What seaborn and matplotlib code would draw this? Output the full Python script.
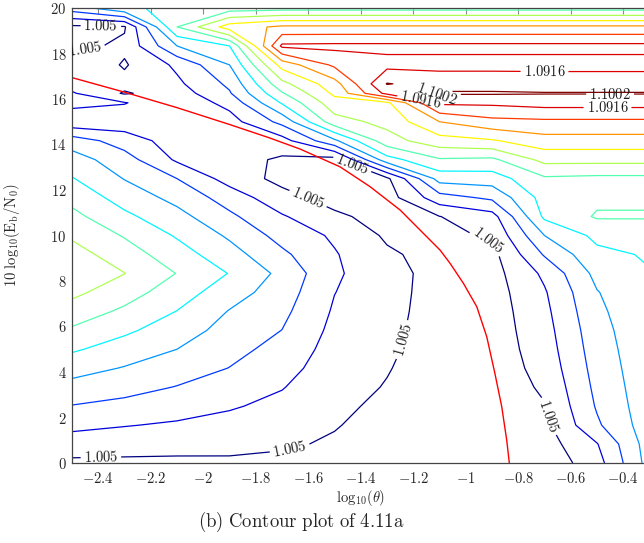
import numpy as np
import pandas as pd
import matplotlib
matplotlib.use("Agg")
import matplotlib.pyplot as plt
import seaborn as sns
from matplotlib.colors import LinearSegmentedColormap
from matplotlib.ticker import FuncFormatter

# ---------------- data ----------------
log_theta = [-2.5, -2.3, -2.1, -1.9, -1.7, -1.5, -1.3, -1.1, -0.9, -0.7, -0.5, -0.3]
ebn0_db = [0.0, 0.833, 1.667, 2.5, 3.333, 4.167, 5.0, 5.833, 6.667, 7.5, 8.333, 9.167,
           10.0, 10.833, 11.667, 12.5, 13.333, 14.167, 15.0, 15.833, 16.25, 16.667,
           17.5, 18.333, 19.167, 20.0]
ratio_min = 1.005
ratio_max = 1.10024
n_levels = 12
# surface, in units of contour steps above 1.005
# (one row per Eb/N0 value, one column per log10(theta) value)
step_grid = [
    [-0.2, -0.2, -0.2, -0.15, -0.2, -0.3, -0.5, -0.7, -0.6, -0.7, 0.6, 3.4],
    [0.53, 0.42, 0.34, 0.25, 0.11, -0.1, -0.4, -0.65, -0.6, -0.45, 0.95, 3.5],
    [1.25, 1.05, 0.88, 0.68, 0.42, 0.05, -0.3, -0.6, -0.6, -0.25, 1.85, 3.55],
    [1.96, 1.72, 1.42, 1.1, 0.74, 0.2, -0.2, -0.55, -0.6, -0.05, 2.1, 3.6],
    [2.67, 2.35, 1.96, 1.55, 1.05, 0.33, -0.05, -0.5, -0.6, 0.15, 2.25, 3.65],
    [3.39, 2.94, 2.48, 1.98, 1.37, 0.47, 0.05, -0.45, -0.58, 0.35, 2.38, 3.7],
    [4.13, 3.56, 3.0, 2.3, 1.68, 0.6, 0.15, -0.42, -0.55, 0.5, 2.5, 3.75],
    [4.86, 4.18, 3.49, 2.63, 1.99, 0.74, 0.22, -0.4, -0.52, 0.62, 2.62, 3.8],
    [5.56, 4.82, 3.98, 2.95, 2.25, 0.88, 0.28, -0.38, -0.5, 0.75, 2.78, 3.85],
    [6.24, 5.43, 4.48, 3.45, 2.5, 1.02, 0.32, -0.36, -0.45, 0.9, 2.95, 3.9],
    [6.9, 6.02, 4.97, 3.96, 2.74, 1.15, 0.35, -0.35, -0.38, 1.2, 3.3, 3.95],
    [6.4, 5.48, 4.44, 3.4, 2.2, 1.08, 0.15, -0.35, -0.3, 2.1, 3.75, 4.1],
    [5.86, 4.92, 3.9, 2.85, 1.65, 0.85, -0.15, -0.3, 0.15, 3.0, 4.25, 4.3],
    [5.28, 4.22, 3.33, 2.2, 1.1, 0.2, -0.4, -0.02, 0.6, 4.2, 5.1, 5.1],
    [4.69, 3.58, 2.7, 1.55, 0.35, -0.4, -0.45, 1.6, 2.2, 4.4, 4.8, 4.8],
    [4.06, 2.96, 2.0, 0.6, -0.3, -0.45, -0.2, 3.4, 3.5, 4.85, 4.75, 4.75],
    [3.46, 2.42, 0.85, 0.4, -0.15, -0.4, 3.6, 4.9, 4.8, 6.3, 6.3, 6.3],
    [2.5, 1.55, 0.5, 0.3, 0.6, 2.8, 5.6, 6.6, 6.9, 7.6, 7.6, 7.6],
    [0.3, 0.4, 0.2, 0.6, 2.3, 5.6, 6.3, 8.0, 8.7, 8.8, 8.8, 8.8],
    [1.3, 1.05, 0.3, 1.3, 4.1, 6.6, 6.8, 10.2, 10.2, 10.4, 10.4, 10.4],
    [1.1, -0.1, 0.5, 1.9, 4.9, 7.2, 10.3, 11.1, 11.1, 11.05, 11.05, 11.05],
    [0.6, 0.3, 0.8, 2.2, 5.7, 7.6, 11.05, 10.6, 10.6, 10.55, 10.55, 10.55],
    [0.9, -0.1, 1.2, 3.0, 7.4, 9.2, 9.7, 9.7, 9.7, 9.7, 9.7, 9.7],
    [-0.3, 0.2, 3.0, 4.0, 10.2, 10.25, 10.25, 10.25, 10.25, 10.25, 10.25, 10.25],
    [-0.2, -0.1, 5.0, 7.5, 8.2, 8.2, 8.2, 8.2, 8.2, 8.2, 8.2, 8.2],
    [2.5, 3.8, 4.3, 4.5, 4.6, 4.6, 4.6, 4.6, 4.6, 4.6, 4.6, 4.6],
]
# red boundary curve
bound_x = [-2.5, -2.3, -2.1, -1.9, -1.75, -1.631, -1.479, -1.365, -1.25, -1.174,
           -1.098, -1.06, -1.009, -0.958, -0.92, -0.889, -0.863, -0.844, -0.834]
bound_y = [16.94, 16.3, 15.62, 14.88, 14.3, 13.8, 13.02, 12.15, 11.12, 10.24,
           9.36, 8.78, 7.9, 6.87, 5.55, 3.94, 2.48, 1.01, 0.0]
x_ticks = [-2.4, -2.2, -2.0, -1.8, -1.6, -1.4, -1.2, -1.0, -0.8, -0.6, -0.4]
y_ticks = [0, 2, 4, 6, 8, 10, 12, 14, 16, 18, 20]

# ---------------- style ----------------
sns.set_theme(style="white")
plt.rcParams["font.family"] = ["DejaVu Serif"]
plt.rcParams["mathtext.fontset"] = "cm"

W, H = 644, 543
fig = plt.figure(figsize=(W / 100, H / 100), dpi=100)
ax = fig.add_axes([72 / W, 80 / H, 577.5 / W, 455 / H])

step = (ratio_max - ratio_min) / (n_levels - 1)
levels = np.linspace(ratio_min, ratio_max, n_levels)
Z = ratio_min + step * np.array(step_grid)
X, Y = np.meshgrid(log_theta, ebn0_db)

pgf_jet = LinearSegmentedColormap.from_list(
    "pgfjet",
    [(0, (0, 0, 0.5)), (1 / 8, (0, 0, 1)), (3 / 8, (0, 1, 1)),
     (5 / 8, (1, 1, 0)), (7 / 8, (1, 0, 0)), (1, (0.5, 0, 0))])
line_colors = [pgf_jet(i / (n_levels - 1)) for i in range(n_levels)]
LW = 0.9

# unlabelled levels
ax.contour(X, Y, Z, levels=levels[1:10], colors=line_colors[1:10], linewidths=LW)


def fmt(v):
    return r"$%s$" % (f"{v:.4f}".rstrip("0"))


label_spots = {
    0: [(-2.39, 0.3), (-1.67, 0.6), (-1.235, 5.4), (-1.59, 11.9), (-1.44, 12.9),
        (-0.92, 9.6), (-0.70, 2.0), (-2.45, 18.1), (-2.39, 19.2)],
    10: [(-0.70, 17.13), (-0.46, 15.66), (-1.17, 16.0)],
    11: [(-1.11, 16.2), (-0.45, 16.2)],
}
for k, spots in label_spots.items():
    csk = ax.contour(X, Y, Z, levels=[levels[k]], colors=[line_colors[k]], linewidths=LW)
    try:
        ax.clabel(csk, inline=True, fmt=fmt, fontsize=10.5, colors="k",
                  manual=spots, inline_spacing=3)
    except Exception:
        pass

df_bound = pd.DataFrame({"x": bound_x, "y": bound_y})
sns.lineplot(data=df_bound, x="x", y="y", sort=False, estimator=None,
             color="red", linewidth=1.0, ax=ax)

ax.set_xlim(-2.5, -0.3)
ax.set_ylim(0, 20)
ax.set_xticks(x_ticks)
ax.set_yticks(y_ticks)
ax.xaxis.set_major_formatter(FuncFormatter(lambda v, p: r"$%g$" % round(v, 1)))
ax.yaxis.set_major_formatter(FuncFormatter(lambda v, p: r"$%g$" % v))
ax.tick_params(direction="in", top=True, right=True, length=4, width=0.8,
               color="#8a8a8a", labelsize=10.5, pad=5.5)
ax.tick_params(axis="y", pad=4)
for s in ax.spines.values():
    s.set_color("#444444")
    s.set_linewidth(0.9)
ax.grid(False)

ax.set_xlabel(r"$\mathrm{log}_{10}(\theta)$", fontsize=10.5)
ax.set_ylabel(r"$10\ \mathrm{log}_{10}(\mathrm{E_b}/\mathrm{N_0})$", fontsize=10.5)
ax.xaxis.set_label_coords(0.5, -0.055)
ax.yaxis.set_label_coords(-0.086, 0.5)

fig.text(301 / W, 1 - 522 / H, r"$\mathrm{(b)\ Contour\ plot\ of\ 4.11a}$",
         ha="center", va="center", fontsize=13.5)

fig.savefig("out.png", dpi=100)
